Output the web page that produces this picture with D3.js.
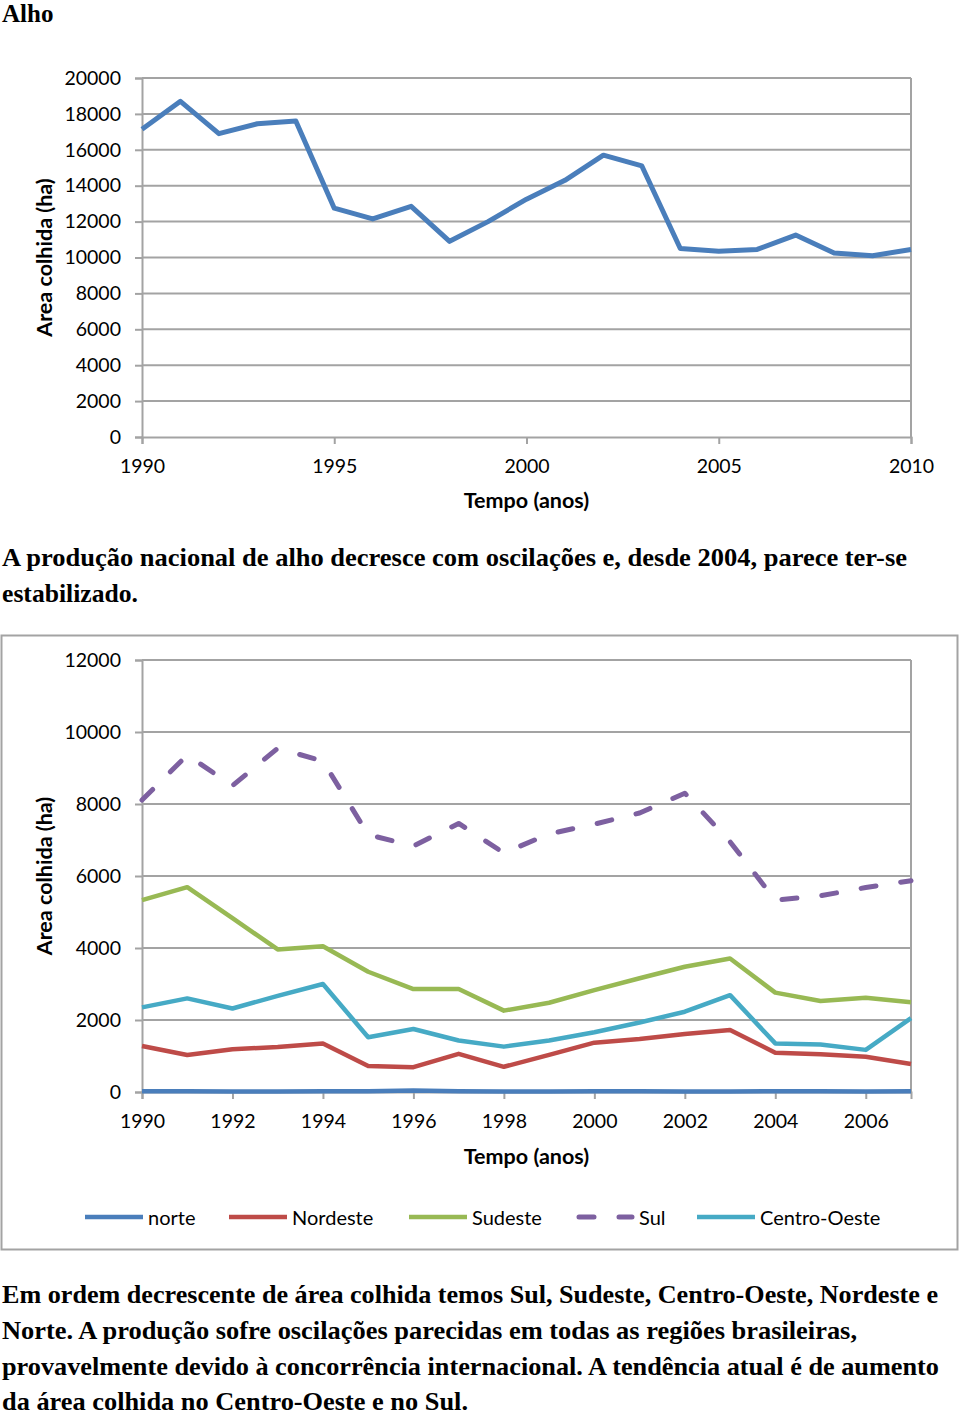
<!DOCTYPE html>
<html><head><meta charset="utf-8">
<script src="https://cdn.jsdelivr.net/npm/d3@7"></script>
<style>body{margin:0;background:#fff}
.serif{font-family:"Liberation Serif","Tinos","Times New Roman",serif;font-weight:bold}
.sans{font-family:"Lato","Open Sans",sans-serif}
</style>
</head><body><svg id="c" width="960" height="1414"></svg>
<script>
// ---------- data ----------
const nationalYears = [1990,1991,1992,1993,1994,1995,1996,1997,1998,1999,2000,2001,2002,2003,2004,2005,2006,2007,2008,2009,2010];
const nationalArea  = [17150,18700,16900,17450,17600,12750,12150,12850,10900,12000,13250,14300,15700,15100,10500,10350,10450,11250,10250,10100,10450];
const nationalYTicks = [0,2000,4000,6000,8000,10000,12000,14000,16000,18000,20000];
const nationalXTicks = [1990,1995,2000,2005,2010];

const regionYears = [1990,1991,1992,1993,1994,1995,1996,1997,1998,1999,2000,2001,2002,2003,2004,2005,2006,2007];
const norte       = [20,20,15,15,20,20,40,20,15,15,20,20,15,15,20,20,15,20];
const nordeste    = [1280,1030,1190,1250,1350,720,690,1060,700,1030,1370,1470,1610,1720,1090,1050,980,780];
const sudeste     = [5330,5690,4830,3960,4050,3340,2860,2860,2260,2480,2830,3160,3480,3710,2760,2530,2620,2490];
const sul         = [8110,9360,8510,9550,9190,7150,6830,7460,6640,7170,7440,7750,8300,6950,5330,5450,5680,5870];
const centroOeste = [2350,2600,2320,2670,3000,1520,1750,1430,1260,1430,1660,1930,2230,2690,1350,1320,1170,2050];
const regionNames = ["norte","Nordeste","Sudeste","Sul","Centro-Oeste"];
const regionColors = ["#4A7EBB","#BE4B48","#98B954","#7D60A0","#46AAC5"];
const regionYTicks = [0,2000,4000,6000,8000,10000,12000];
const regionXTicks = [1990,1992,1994,1996,1998,2000,2002,2004,2006];

const title = "Alho";
const para1 = ["A produção nacional de alho decresce com oscilações e, desde 2004, parece ter-se","estabilizado."];
const para2 = ["Em ordem decrescente de área colhida temos Sul, Sudeste, Centro-Oeste, Nordeste e",
               "Norte. A produção sofre oscilações parecidas em todas as regiões brasileiras,",
               "provavelmente devido à concorrência internacional. A tendência atual é de aumento",
               "da área colhida no Centro-Oeste e no Sul."];

// ---------- drawing ----------
const svg = d3.select("#c");
svg.append("rect").attr("width",960).attr("height",1414).attr("fill","#fff");
const gridCol = "#a3a3a3";

svg.append("text").attr("class","serif").attr("x",2).attr("y",22)
   .attr("font-size",25).text(title);

function drawChart(opt){
  const g = svg.append("g");
  const x = d3.scaleLinear().domain(opt.xDomain).range([opt.left,opt.right]);
  const y = d3.scaleLinear().domain(opt.yDomain).range([opt.bottom,opt.top]);
  g.selectAll(".gl").data(opt.yTicks.filter(v=>v>0)).join("line")
   .attr("x1",opt.left).attr("x2",opt.right).attr("y1",d=>y(d)).attr("y2",d=>y(d))
   .attr("stroke",gridCol).attr("stroke-width",2);
  g.append("line").attr("x1",opt.right).attr("x2",opt.right).attr("y1",opt.top).attr("y2",opt.bottom)
   .attr("stroke",gridCol).attr("stroke-width",2);
  const ya = d3.axisLeft(y).tickValues(opt.yTicks).tickSize(7).tickPadding(14).tickFormat(d3.format("d"));
  const yg = g.append("g").attr("transform",`translate(${opt.left},0)`).call(ya);
  const xa = d3.axisBottom(x).tickValues(opt.xTicks).tickSize(7).tickPadding(15).tickFormat(d3.format("d"));
  const xg = g.append("g").attr("transform",`translate(0,${opt.bottom})`).call(xa);
  [yg,xg].forEach(a=>{
    a.attr("font-family",null).attr("font-size",null);
    a.select(".domain").attr("stroke",gridCol).attr("stroke-width",2);
    a.selectAll(".tick line").attr("stroke",gridCol).attr("stroke-width",2);
    a.selectAll("text").attr("class","sans").attr("font-size",19.5).attr("fill","#000");
  });
  g.append("text").attr("class","sans").attr("transform",`translate(${opt.yTitleX},${(opt.top+opt.bottom)/2}) rotate(-90)`)
   .attr("text-anchor","middle").attr("dominant-baseline","central")
   .attr("font-weight","bold").attr("font-size",21.5).text("Area colhida (ha)");
  g.append("text").attr("class","sans").attr("x",(opt.left+opt.right)/2).attr("y",opt.xTitleY)
   .attr("text-anchor","middle").attr("dominant-baseline","central")
   .attr("font-weight","bold").attr("font-size",21.5).text("Tempo (anos)");
  return {g,x,y};
}

// Chart 1
const c1 = drawChart({xDomain:[1990,2010],yDomain:[0,20000],left:142,right:911,top:78,bottom:437,
  yTicks:nationalYTicks,xTicks:nationalXTicks,yTitleX:44,xTitleY:500});
c1.g.append("path").datum(nationalYears.map((yr,i)=>[yr,nationalArea[i]]))
  .attr("fill","none").attr("stroke","#4A7EBB").attr("stroke-width",5).attr("stroke-linejoin","round")
  .attr("d",d3.line().x(d=>c1.x(d[0])).y(d=>c1.y(d[1])));

// paragraph 1
const p1Base=[566,602], p1Len=[905,136];
para1.forEach((t,i)=>{
  svg.append("text").attr("class","serif").attr("x",2).attr("y",p1Base[i])
   .attr("font-size",25).attr("textLength",p1Len[i]).attr("lengthAdjust","spacingAndGlyphs").text(t);
});

// Chart 2 frame
svg.append("rect").attr("x",1.5).attr("y",635.5).attr("width",956).attr("height",614)
  .attr("fill","none").attr("stroke",gridCol).attr("stroke-width",2);
const c2 = drawChart({xDomain:[1990,2007],yDomain:[0,12000],left:142,right:911,top:660,bottom:1092,
  yTicks:regionYTicks,xTicks:regionXTicks,yTitleX:44,xTitleY:1156});
const regionSeries=[norte,nordeste,sudeste,sul,centroOeste];
const drawOrder=[1,2,3,4,0];
drawOrder.forEach(k=>{
  const p=c2.g.append("path").datum(regionYears.map((yr,i)=>[yr,regionSeries[k][i]]))
   .attr("fill","none").attr("stroke",regionColors[k]).attr("stroke-width",4.5).attr("stroke-linejoin","round")
   .attr("d",d3.line().x(d=>c2.x(d[0])).y(d=>c2.y(d[1])));
  if(regionNames[k]==="Sul") p.attr("stroke-dasharray","15 25").attr("stroke-linecap","round").attr("stroke-width",5);
});

// legend
const legX=[85,229,409,576,697];
regionNames.forEach((n,i)=>{
  const l=svg.append("line").attr("x1",legX[i]).attr("x2",legX[i]+58).attr("y1",1217).attr("y2",1217)
    .attr("stroke",regionColors[i]).attr("stroke-width",4.5);
  if(n==="Sul") l.attr("stroke-dasharray","15 25").attr("stroke-linecap","round").attr("x1",legX[i]+3).attr("x2",legX[i]+56).attr("stroke-width",5);
  svg.append("text").attr("class","sans").attr("x",legX[i]+63).attr("y",1217).attr("dominant-baseline","central")
    .attr("font-size",20).text(n);
});

// paragraph 2
const p2Base=[1303,1339,1375,1410], p2Len=[936,855,937,466];
para2.forEach((t,i)=>{
  svg.append("text").attr("class","serif").attr("x",2).attr("y",p2Base[i])
   .attr("font-size",25).attr("textLength",p2Len[i]).attr("lengthAdjust","spacingAndGlyphs").text(t);
});
</script></body></html>
